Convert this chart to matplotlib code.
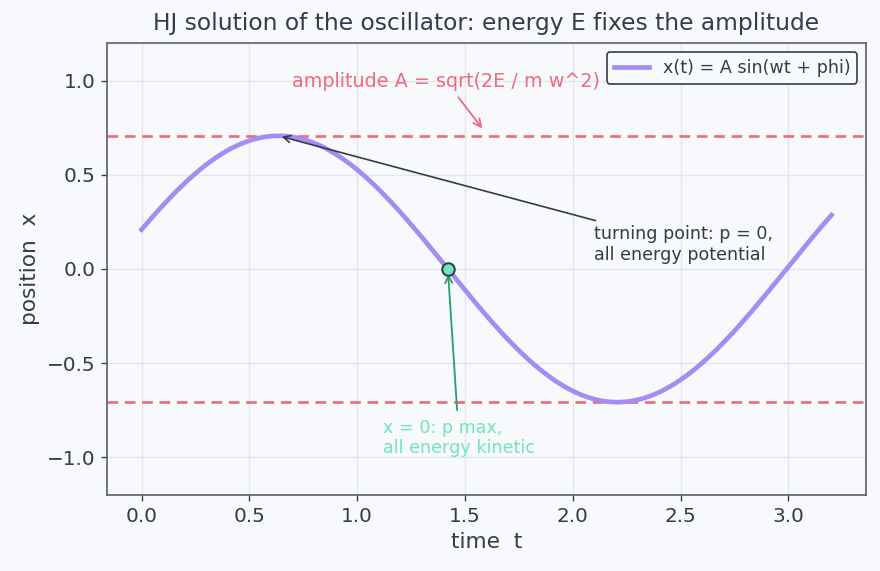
import numpy as np
import matplotlib
matplotlib.use("Agg")
import matplotlib.pyplot as plt

# physical parameters
E = 1.0
m = 1.0
w = 2.0
phi = 0.30
t_range = [0.0, 3.2]
A = np.sqrt(2 * E / (m * w ** 2))

t = np.linspace(t_range[0], t_range[1], 400)
x = A * np.sin(w * t + phi)
t_zero = (np.pi - phi) / w
t_peak = (np.pi / 2 - phi) / w

bg = "#f8f9fd"
dark = "#343b4a"
purple = "#a48cf2"
red = "#ee6a7c"
green_fill = "#6ee7b7"
green_arrow = "#2a9d76"

fig, ax = plt.subplots(figsize=(880 / 120, 571 / 120), dpi=120)
fig.patch.set_facecolor(bg)
ax.set_facecolor(bg)

ax.plot(t, x, color=purple, lw=2.8, label="x(t) = A sin(wt + phi)", zorder=3)
ax.axhline(A, color=red, ls="--", lw=1.6, dashes=(4, 2.5), zorder=2)
ax.axhline(-A, color=red, ls="--", lw=1.6, dashes=(4, 2.5), zorder=2)
ax.plot([t_zero], [0], "o", ms=7.5, mfc=green_fill, mec=dark, mew=1.2, zorder=5)

ax.annotate("turning point: p = 0,\nall energy potential", xy=(t_peak, A), xytext=(2.1, 0.05),
            fontsize=10.5, color=dark,
            arrowprops=dict(arrowstyle="->", color=dark, lw=1.0))
ax.annotate("x = 0: p max,\nall energy kinetic", xy=(t_zero, 0), xytext=(1.12, -1.0),
            fontsize=10.5, color=green_fill,
            arrowprops=dict(arrowstyle="->", color=green_arrow, lw=1.1, shrinkA=3,
                            shrinkB=3),
            va="bottom")
ax.annotate("amplitude A = sqrt(2E / m w^2)", xy=(1.59, A + 0.025), xytext=(0.7, 0.965),
            fontsize=11.5, color=red,
            arrowprops=dict(arrowstyle="->", color=red, lw=1.1))

ax.set_xlim(-0.16, 3.36)
ax.set_ylim(-1.2, 1.2)
ax.set_xticks([0.0, 0.5, 1.0, 1.5, 2.0, 2.5, 3.0])
ax.set_yticks([-1.0, -0.5, 0.0, 0.5, 1.0])
ax.grid(True, color="#e3e5ec", lw=0.8)
ax.set_axisbelow(True)
ax.tick_params(colors=dark, labelsize=12)
for s in ax.spines.values():
    s.set_color("#5a5f6c")
    s.set_linewidth(1.0)

ax.set_xlabel("time  t", fontsize=13, color=dark)
ax.set_ylabel("position  x", fontsize=13, color=dark)
ax.set_title("HJ solution of the oscillator: energy E fixes the amplitude", fontsize=14,
             color=dark, pad=8)

leg = ax.legend(loc="upper right", fontsize=10.5, frameon=True, fancybox=True)
leg.get_frame().set_edgecolor(dark)
leg.get_frame().set_facecolor(bg)
leg.get_frame().set_alpha(1)
for txt in leg.get_texts():
    txt.set_color(dark)

fig.subplots_adjust(left=107 / 880, right=866 / 880, top=1 - 43 / 571, bottom=1 - 495 / 571)
fig.savefig("out.png", dpi=120, facecolor=bg)
